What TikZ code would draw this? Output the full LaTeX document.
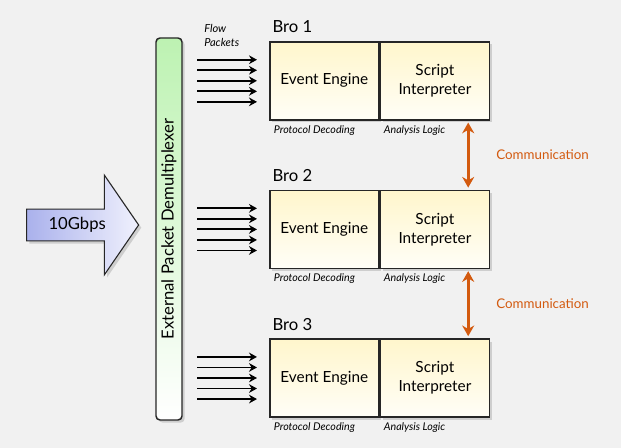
\documentclass[tikz,border=0pt]{standalone}
\usepackage{fontspec}
\setmainfont{Lato}
\usetikzlibrary{arrows.meta,positioning,shadows,shapes.arrows,calc}
\definecolor{brobg}{HTML}{F1F1F1}
\definecolor{brocream}{HTML}{FFF6CC}
\definecolor{brocreamlt}{HTML}{FFFEF7}
\definecolor{brogreen}{HTML}{BDF2B2}
\definecolor{brolav}{HTML}{AAB1EC}
\definecolor{brolavlt}{HTML}{F0F1FD}
\definecolor{broorange}{HTML}{D35A0F}
\definecolor{broedge}{HTML}{262626}
\tikzset{
  unit/.style={draw=broedge, line width=1.2pt, top color=brocream, bottom color=brocreamlt, minimum width=81.75pt, minimum height=58.5pt, align=center, inner sep=2pt, font=\fontsize{11.5}{14.5}\selectfont, drop shadow={opacity=0.3, shadow xshift=2pt, shadow yshift=-2pt}},
  demux/.style={draw=broedge, line width=1.1pt, rounded corners=3pt, minimum width=19.5pt, minimum height=286.5pt, inner sep=0pt, top color=brogreen, bottom color=white, font=\fontsize{12.5}{14}\selectfont, drop shadow={opacity=0.3, shadow xshift=2pt, shadow yshift=-2pt}},
  inarrow/.style={single arrow, single arrow head extend=25.5pt, single arrow tip angle=111, minimum height=84pt, draw=broedge, line width=0.8pt, left color=brolav, right color=brolavlt, font=\fontsize{12.5}{15}\selectfont, text height=9.5pt, text depth=3pt, inner ysep=5.25pt, drop shadow={opacity=0.3, shadow xshift=2pt, shadow yshift=-2pt}},
  brolabel/.style={font=\fontsize{12.5}{14}\selectfont, inner sep=0pt},
  sublabel/.style={font=\fontsize{8}{9.5}\selectfont\itshape, inner sep=0pt},
  flowlabel/.style={font=\fontsize{8.3}{10.5}\selectfont\itshape, align=left, inner sep=0pt},
  commlabel/.style={font=\fontsize{10}{12}\selectfont, text=broorange, inner sep=0pt},
  flow/.style={-{Stealth[length=6pt, width=6.5pt]}, line width=1.4pt, draw=black},
  comm/.style={{Stealth[length=8pt, width=9pt]}-{Stealth[length=8pt, width=9pt]}, line width=2.2pt, draw=broorange}
}
\begin{document}
\begin{tikzpicture}[x=0.75pt, y=-0.75pt, node distance=51.75pt and 0pt]
  \fill[brobg] (0,0) rectangle (621,448);
  \useasboundingbox (0,0) rectangle (621,448);

  % Bro instances
  \node[unit, anchor=north west] (engine1) at (269,41) {Event Engine};
  \node[unit, right=0pt of engine1] (interp1) {Script\\Interpreter};
  \node[unit, below=of engine1] (engine2) {Event Engine};
  \node[unit, right=0pt of engine2] (interp2) {Script\\Interpreter};
  \node[unit, below=of engine2] (engine3) {Event Engine};
  \node[unit, right=0pt of engine3] (interp3) {Script\\Interpreter};

  % demultiplexer and input link
  \node[demux] (demux) at (169,229) {\rotatebox{90}{External Packet Demultiplexer}};
  \node[inarrow, anchor=tip] (input) at ([xshift=-12pt, yshift=3pt]demux.west) {10Gbps};
  \node[flowlabel, anchor=north west] (flowtxt) at (204,24) {Flow\\Packets};

  \foreach \i in {1,2,3} {
    \node[brolabel, anchor=base west] (bro\i) at ([xshift=2.5pt, yshift=6pt]engine\i.north west) {Bro \i};
    \node[sublabel, anchor=base west] (decode\i) at ([xshift=3.5pt, yshift=-9.5pt]engine\i.south west) {Protocol Decoding};
    \node[sublabel, anchor=base west] (logic\i) at ([xshift=3pt, yshift=-9.5pt]interp\i.south west) {Analysis Logic};
    \foreach \k in {-2,...,2}
      \draw[flow] ([xshift=-54pt, yshift=\k*7.9pt]engine\i.west) -- ([xshift=-9pt, yshift=\k*7.9pt]engine\i.west);
  }

  \draw[comm] ([xshift=-16.5pt, yshift=-1.5pt]interp1.south east) -- node[commlabel, right=20pt] (comm1) {Communication} ([xshift=-16.5pt, yshift=1.5pt]interp2.north east);
  \draw[comm] ([xshift=-16.5pt, yshift=-1.5pt]interp2.south east) -- node[commlabel, right=20pt] (comm2) {Communication} ([xshift=-16.5pt, yshift=1.5pt]interp3.north east);
\end{tikzpicture}
\end{document}
